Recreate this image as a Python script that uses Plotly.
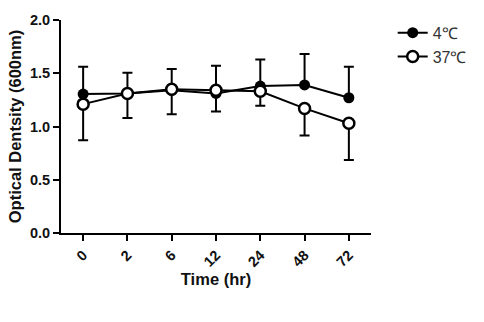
import plotly.graph_objects as go

time_labels = ["0", "2", "6", "12", "24", "48", "72"]
od_4c = [1.305, 1.31, 1.34, 1.31, 1.38, 1.39, 1.27]
err_4c_up = [0.255, 0.195, 0.20, 0.26, 0.25, 0.29, 0.29]
od_37c = [1.21, 1.31, 1.35, 1.34, 1.33, 1.17, 1.03]
err_37c_down = [0.34, 0.23, 0.235, 0.20, 0.135, 0.255, 0.345]

fig = go.Figure()
fig.add_trace(go.Scatter(
    x=time_labels, y=od_4c, name="4℃", mode="lines+markers",
    line=dict(color="black", width=2),
    marker=dict(symbol="circle", size=11, color="black"),
    error_y=dict(type="data", symmetric=False, array=err_4c_up,
                 arrayminus=[0]*7, color="black", thickness=2, width=5),
))
fig.add_trace(go.Scatter(
    x=time_labels, y=od_37c, name="37℃", mode="lines+markers",
    line=dict(color="black", width=2),
    marker=dict(symbol="circle", size=11, color="white",
                line=dict(color="black", width=2.5)),
    error_y=dict(type="data", symmetric=False, array=[0]*7,
                 arrayminus=err_37c_down, color="black", thickness=2, width=5),
))

tick_font = dict(family="Liberation Sans", size=14.5, color="#111", weight="bold")
fig.update_layout(
    width=484, height=322,
    margin=dict(l=61, r=104, t=20, b=89),
    plot_bgcolor="white", paper_bgcolor="white",
    font=dict(family="Liberation Sans", color="#111"),
    showlegend=True,
    legend=dict(x=1.07, y=1.02, xanchor="left", yanchor="top",
                font=dict(family="Liberation Sans", size=16, color="#333"),
                bgcolor="rgba(0,0,0,0)", tracegroupgap=0, itemwidth=30),
    xaxis=dict(
        type="category", range=[-0.5, 6.5],
        showline=True, linecolor="black", linewidth=2,
        ticks="outside", ticklen=6, tickwidth=2, tickcolor="black",
        tickangle=-45, tickfont=tick_font,
        showgrid=False, zeroline=False,
        title=dict(text="<b>Time (hr)</b>", font=dict(family="Liberation Sans", size=16.5, color="#111"), standoff=4),
    ),
    yaxis=dict(
        range=[0, 2], tickvals=[0, 0.5, 1.0, 1.5, 2.0], tickformat=".1f",
        showline=True, linecolor="black", linewidth=2,
        ticks="outside", ticklen=6, tickwidth=2, tickcolor="black",
        tickfont=tick_font,
        showgrid=False, zeroline=False,
        title=dict(text="<b>Optical Dentsity (600nm)</b>", font=dict(family="Liberation Sans", size=16.5, color="#111"), standoff=4),
    ),
)

fig.write_html("out.html")
